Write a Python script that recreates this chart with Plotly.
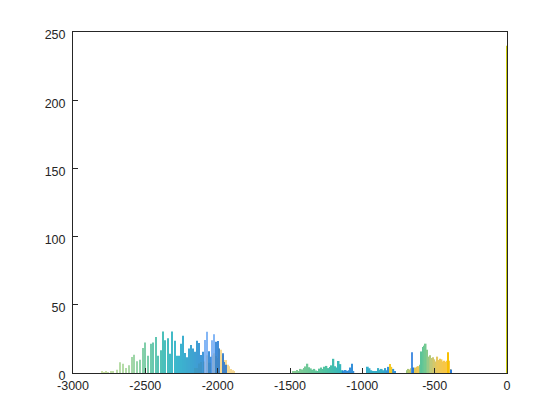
import plotly.graph_objects as go
from plotly.colors import hex_to_rgb

# ---------------- data ----------------
# Region 1: stick spectrum (green -> teal -> blue)
main_x = [-2800, -2785, -2770, -2755, -2740, -2724, -2698, -2675, -2657, -2634, -2613,
          -2594, -2576, -2555, -2537, -2518, -2500, -2482, -2463, -2447, -2428,
          -2410, -2394, -2378, -2362, -2346, -2330, -2314, -2297, -2281, -2265,
          -2253, -2238, -2224, -2210, -2196, -2182, -2168, -2154, -2141, -2127,
          -2113, -2100, -2062, -2048, -2013, -2001, -1989, -1965, -1954, -1942]
main_h = [0.8, 0.6, 1.0, 0.7, 1.0, 1.2, 2.4, 7.8, 6.8, 3.7, 5.6,
          11.7, 13.4, 8.6, 9.8, 18.3, 22.4, 12.7, 21.5, 22.4, 26.4,
          12.7, 16.6, 30.5, 24.0, 25.5, 14.2, 30.5, 23.7, 12.7, 12.7,
          21.5, 27.4, 14.7, 11.5, 18.0, 20.5, 18.0, 15.6, 23.7, 22.0,
          13.2, 15.6, 16.0, 12.0, 23.0, 23.5, 18.0, 14.4, 8.0, 6.0]

# Region 1: light blue sticks
lblue_x = [-2086, -2074, -2037, -2025]
lblue_h = [24.2, 30.3, 24.0, 28.4]

# Region 1: yellow sticks
yel_x = [-2157, -2141, -2127, -2113, -2092, -2076, -2062, -2048, -2034, -2023, -2012,
         -2000, -1989, -1977, -1965, -1954, -1942, -1931, -1920, -1908, -1896, -1885]
yel_h = [3.7, 3.7, 7.0, 8.0, 8.5, 13.0, 7.5, 7.5, 13.0, 14.4, 12.5,
         11.0, 18.0, 17.0, 13.0, 9.5, 9.5, 6.0, 5.0, 3.0, 2.0, 1.0]

# Region 2: dense band (green -> teal)
r2_x = [-1476, -1464, -1452, -1440, -1428, -1416, -1404, -1392, -1380, -1368,
        -1356, -1344, -1332, -1320, -1308, -1296, -1284, -1272, -1260, -1248,
        -1236, -1224, -1212, -1200, -1188, -1176, -1164, -1152, -1140]
r2_h = [0.8, 1.5, 2.2, 1.4, 3.0, 2.6, 3.6, 4.8, 6.8, 4.2,
        3.4, 2.4, 3.0, 1.8, 1.4, 3.2, 4.0, 3.0, 4.6, 5.2,
        3.6, 4.4, 5.6, 10.4, 5.0, 4.0, 8.8, 6.5, 2.0]

# Region 2: blue part
r2b_x = [-1128, -1116, -1104, -1092, -1080, -1072, -1062]
r2b_h = [1.8, 2.2, 1.6, 2.0, 4.0, 6.8, 1.5]

# Region 2: small teal/blue group
r2c_x = [-962, -950, -938, -926, -914, -902, -890, -878, -866, -854, -842, -830, -820, -786, -774]
r2c_h = [4.6, 3.5, 2.0, 1.0, 0.8, 1.0, 3.6, 2.4, 3.0, 2.0, 3.6, 2.0, 4.5, 3.0, 1.5]
r2y_x = [-810, -799]
r2y_h = [6.6, 4.5]

# Region 3: dense band (green -> olive -> yellow)
r3_x = [-692, -682, -672, -662, -652, -642, -632, -622, -612, -602,
        -592, -582, -572, -562, -552, -542, -532, -522, -512, -502,
        -492, -482, -472, -462, -452, -442, -432, -422, -412, -402, -394]
r3_h = [2.0, 3.0, 2.5, 3.5, 2.8, 3.0, 4.0, 4.5, 5.0, 6.0,
        15.8, 19.0, 20.0, 21.5, 17.0, 12.0, 13.0, 11.0, 11.5, 10.0,
        8.5, 12.0, 9.5, 10.5, 10.0, 8.5, 9.0, 8.0, 9.0, 9.0, 3.0]

# Region 3 spikes
sp_x = [-659, -648, -406, -390]
sp_h = [15.3, 4.0, 15.3, 2.5]

# peak at zero
zero_x = [0, 0]
zero_y = [0, 240]

x_ticks = [-3000, -2500, -2000, -1500, -1000, -500, 0]
y_ticks = [0, 50, 100, 150, 200, 250]


# ---------------- colour helper ----------------
def grad(xs, stops):
    out = []
    for x in xs:
        if x <= stops[0][0]:
            out.append(stops[0][1]); continue
        if x >= stops[-1][0]:
            out.append(stops[-1][1]); continue
        for (x0, c0), (x1, c1) in zip(stops[:-1], stops[1:]):
            if x0 <= x <= x1:
                t = (x - x0) / (x1 - x0)
                a = hex_to_rgb(c0); b = hex_to_rgb(c1)
                r = [round(a[i] + (b[i] - a[i]) * t) for i in range(3)]
                out.append(f"rgb({r[0]},{r[1]},{r[2]})")
                break
    return out


fig = go.Figure()


def bars(xs, hs, colors, width, opacity=1.0):
    fig.add_trace(go.Bar(x=xs, y=hs, width=width, marker=dict(color=colors, line=dict(width=0)),
                         opacity=opacity, showlegend=False, hoverinfo="skip"))


main_stops = [(-2800, "#c4dc96"), (-2620, "#a2d49a"), (-2480, "#62c49c"), (-2380, "#2cb6ae"),
              (-2280, "#1aaac6"), (-2180, "#1d96c8"), (-2080, "#1f7fd4"), (-1940, "#2272d0")]
bars(yel_x, yel_h, "#f2c65a", 8, 0.65)
bars(main_x, main_h, grad(main_x, main_stops), 7, 0.85)
bars(lblue_x, lblue_h, "#5c9ef2", 8, 0.75)

r2_stops = [(-1476, "#7cc88a"), (-1350, "#58c28e"), (-1250, "#3cbc98"), (-1140, "#1eaeb8")]
bars(r2_x, r2_h, grad(r2_x, r2_stops), 12, 0.9)
bars(r2b_x, r2b_h, "#1f84d6", 12, 0.9)
bars(r2c_x, r2c_h, grad(r2c_x, [(-962, "#22a8c8"), (-860, "#20a8c0"), (-820, "#1f88d6")]), 12, 0.9)
bars(r2y_x, r2y_h, "#f5c81a", 11, 0.95)

r3_stops = [(-692, "#8cc070"), (-660, "#c8c050"), (-610, "#f0c040"), (-598, "#46bd8e"),
            (-560, "#66c486"), (-525, "#b8c46c"), (-480, "#e6c24a"), (-430, "#f8c032"), (-394, "#f8c030")]
bars(r3_x, r3_h, grad(r3_x, r3_stops), 11, 0.9)
bars(sp_x, sp_h, ["#4a90e2", "#2a7ad8", "#f8c000", "#2a7ad8"], 7, 1.0)

fig.add_trace(go.Scatter(x=zero_x, y=zero_y, mode="lines", line=dict(color="#cccc10", width=2),
                         showlegend=False, hoverinfo="skip"))

axis_common = dict(showgrid=False, zeroline=False, showline=True, linecolor="#262626", linewidth=1,
                   mirror=True, ticks="inside", ticklen=5, tickcolor="#262626",
                   tickfont=dict(family="Liberation Sans, Arial, sans-serif", size=12.5, color="#262626"))

fig.update_layout(
    width=552, height=412,
    margin=dict(l=65, r=53, t=24, b=47),
    paper_bgcolor="white", plot_bgcolor="white",
    barmode="overlay",
    xaxis=dict(range=[-3000, 0], tickvals=x_ticks, ticktext=[str(v) for v in x_ticks],
               ticklabelstandoff=1, **axis_common),
    yaxis=dict(range=[0, 250], tickvals=y_ticks, ticktext=[str(v) for v in y_ticks],
               ticklabelstandoff=4, ticklabelshift=3, **axis_common),
)

fig.write_html("out.html")
